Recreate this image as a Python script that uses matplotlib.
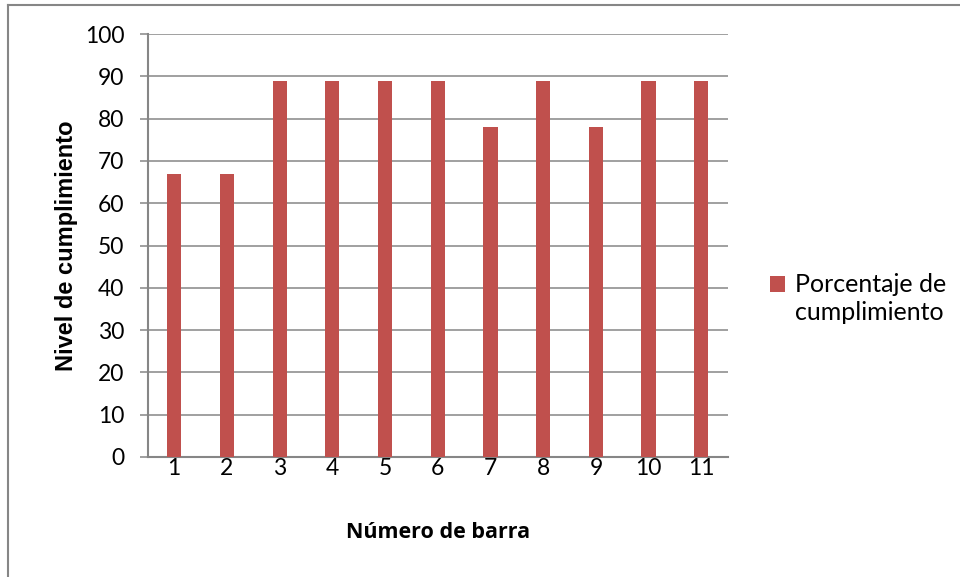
import matplotlib.pyplot as plt
from matplotlib.lines import Line2D

# Nivel de cumplimiento por barra
barras = [1, 2, 3, 4, 5, 6, 7, 8, 9, 10, 11]
porcentaje = [67, 67, 89, 89, 89, 89, 78, 89, 78, 89, 89]

rojo = '#C0504D'
gris = '#868686'

plt.rcParams['font.family'] = ['Lato', 'DejaVu Sans']

fig = plt.figure(figsize=(9.6, 5.77), dpi=100)
ax = fig.add_axes([0.154, 0.208, 0.604, 0.733])

x = list(range(len(barras)))
ax.bar(x, porcentaje, width=0.27, color=rojo, zorder=3,
       label='Porcentaje de\ncumplimiento')

ax.set_xlim(-0.5, len(barras) - 0.5)
ax.set_ylim(0, 100)
ax.set_yticks(range(0, 101, 10))
ax.set_xticks(x)
ax.set_xticklabels([str(b) for b in barras])

ax.yaxis.grid(True, color=gris, linewidth=1.1, zorder=0)
for s in ['top', 'right']:
    ax.spines[s].set_visible(False)
for s in ['left', 'bottom']:
    ax.spines[s].set_color(gris)
    ax.spines[s].set_linewidth(1.5)
ax.tick_params(axis='y', length=6, width=1.1, color=gris, labelsize=16.5, pad=11)
ax.tick_params(axis='x', length=0, labelsize=16.5, pad=1)

ax.set_ylabel('Nivel de cumplimiento', fontsize=17, fontweight='bold',
              family=['Liberation Sans', 'DejaVu Sans'], labelpad=5)
ax.set_xlabel('Número de barra', fontsize=15.5, fontweight='bold',
              family=['Open Sans', 'DejaVu Sans'], labelpad=31)

leg = ax.legend(loc='center left', bbox_to_anchor=(1.035, 0.375), frameon=False,
                fontsize=18, handlelength=0.6, handleheight=0.6,
                handletextpad=0.4, labelspacing=0.3)
for t in leg.get_texts():
    t.set_linespacing(1.3)
# el cuadro de la leyenda va a la altura de la primera línea
caja = leg.legend_handles[0]
caja.set_y(caja.get_y() + 11)

# marco exterior del gráfico
fig.add_artist(Line2D([8 / 960, 8 / 960], [0, 1 - 5 / 577],
                      transform=fig.transFigure, color=gris, linewidth=1.5))
fig.add_artist(Line2D([8 / 960, 1], [1 - 5 / 577, 1 - 5 / 577],
                      transform=fig.transFigure, color=gris, linewidth=1.5))

fig.savefig('out.png', dpi=100)
